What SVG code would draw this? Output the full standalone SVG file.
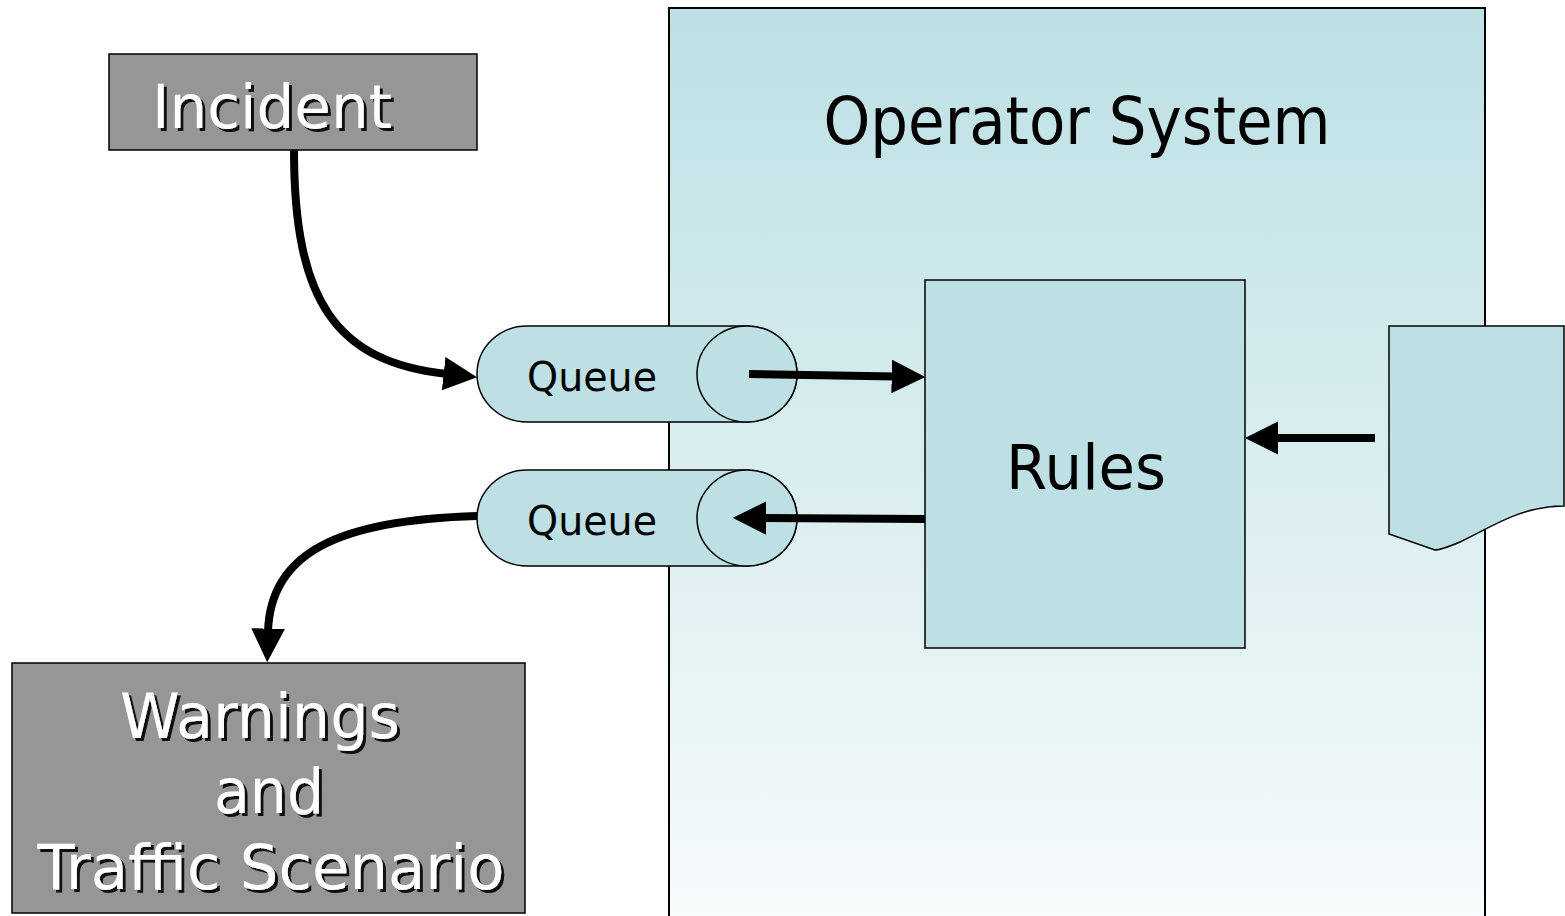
<svg xmlns="http://www.w3.org/2000/svg" width="1565" height="916" viewBox="0 0 1565 916">
<defs>
<linearGradient id="opg" x1="0" y1="0" x2="0" y2="1">
<stop offset="0" stop-color="#bce0e3"/>
<stop offset="1" stop-color="#f7fbfc"/>
</linearGradient>
<filter id="sh" x="-10%" y="-20%" width="130%" height="150%">
<feDropShadow dx="3" dy="3" stdDeviation="0.5" flood-color="#000" flood-opacity="0.9"/>
</filter>
<marker id="ah" viewBox="0 0 10 10" refX="1" refY="5" markerWidth="4.2" markerHeight="4.2" markerUnits="strokeWidth" orient="auto">
<path d="M0,0 L10,5 L0,10 Z" fill="#000"/>
</marker>
</defs>
<style>
.lbl{font-family:"DejaVu Sans","Liberation Sans",sans-serif;fill:#000}
.wlbl{font-family:"DejaVu Sans","Liberation Sans",sans-serif;fill:#fff;filter:url(#sh)}
.gray{fill:#969696;stroke:#000;stroke-width:1.5}
.teal{fill:#bce0e3;stroke:#000;stroke-width:1.5}
.conn{fill:none;stroke:#000;stroke-width:8;marker-end:url(#ah)}
</style>
<g id="operator-system">
<rect x="669" y="8" width="816" height="920" fill="url(#opg)" stroke="#000" stroke-width="2"/>
<text class="lbl" x="1077" y="144" font-size="66" text-anchor="middle" textLength="507" lengthAdjust="spacingAndGlyphs">Operator System</text>
</g>
<g id="rules">
<rect class="teal" x="925" y="280" width="320" height="368"/>
<text class="lbl" x="1086" y="489" font-size="62" text-anchor="middle" textLength="160" lengthAdjust="spacingAndGlyphs">Rules</text>
</g>
<g id="document">
<path class="teal" d="M1389,326 H1564 V506 C1520,506 1490,528 1460,542 C1448,547 1440,550 1435,550 L1389,534 Z"/>
</g>
<g id="incident">
<rect class="gray" x="109" y="54" width="368" height="96"/>
<text class="wlbl" x="272" y="128" font-size="60" text-anchor="middle" textLength="240" lengthAdjust="spacingAndGlyphs">Incident</text>
</g>
<g id="queue-in">
<path class="teal" d="M527,326 H747 A50,48 0 0 1 747,422 H527 A50,48 0 0 1 527,326 Z"/>
<ellipse class="teal" cx="747" cy="374" rx="50" ry="48"/>
<text class="lbl" x="592" y="391" font-size="40" text-anchor="middle" textLength="130" lengthAdjust="spacingAndGlyphs">Queue</text>
</g>
<g id="queue-out">
<path class="teal" d="M527,470 H747 A50,48 0 0 1 747,566 H527 A50,48 0 0 1 527,470 Z"/>
<ellipse class="teal" cx="747" cy="518" rx="50" ry="48"/>
<text class="lbl" x="592" y="535" font-size="40" text-anchor="middle" textLength="130" lengthAdjust="spacingAndGlyphs">Queue</text>
</g>
<g id="warnings">
<rect class="gray" x="12" y="663" width="513" height="250"/>
<text class="wlbl" x="260" y="738" font-size="62" text-anchor="middle" textLength="280" lengthAdjust="spacingAndGlyphs">Warnings</text>
<text class="wlbl" x="269" y="813" font-size="62" text-anchor="middle" textLength="110" lengthAdjust="spacingAndGlyphs">and</text>
<text class="wlbl" x="271" y="889" font-size="62" text-anchor="middle" textLength="467" lengthAdjust="spacingAndGlyphs">Traffic Scenario</text>
</g>
<g id="connectors">
<path class="conn" d="M294,150 C294,300 335,362 447,374"/>
<path class="conn" d="M749,374 L895,376.5"/>
<path class="conn" d="M925,519 L763,518"/>
<path class="conn" d="M1375,438 L1275,438"/>
<path class="conn" d="M477,516 C340,520 270,552 268,632"/>
</g>
</svg>
